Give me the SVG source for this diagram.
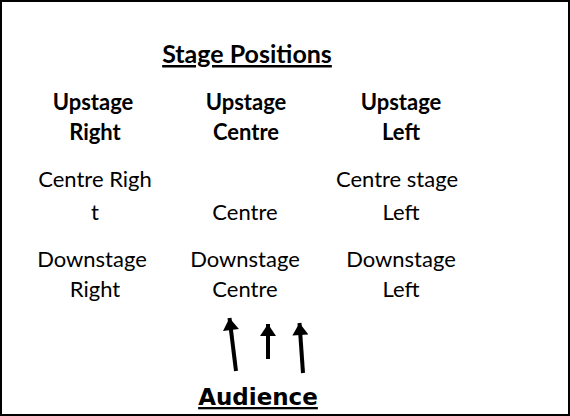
<svg xmlns="http://www.w3.org/2000/svg" width="570" height="416" viewBox="0 0 570 416">
<style>
.b{font-family:Lato,"Liberation Sans",sans-serif;font-weight:bold;font-size:22px;fill:#000;text-anchor:middle}
.r{font-family:Lato,"Liberation Sans",sans-serif;font-size:22px;fill:#000;text-anchor:middle}
.t{font-family:Lato,"Liberation Sans",sans-serif;font-weight:bold;font-size:25px;fill:#000;text-anchor:middle;text-decoration:underline}
.a{font-family:"DejaVu Sans",sans-serif;font-weight:bold;font-size:23px;fill:#000;text-anchor:middle;text-decoration:underline}
.c{stroke:#000;stroke-width:4;fill:none}
</style>
<defs>
<marker id="ah" markerUnits="userSpaceOnUse" markerWidth="16" markerHeight="16" viewBox="0 0 16 16" refX="14" refY="8" orient="auto">
<path d="M2 0 L14 8 L2 16 Z" fill="#000"/>
</marker>
</defs>
<rect x="1" y="1" width="568" height="414" fill="#fff" stroke="#000" stroke-width="2"/>
<g id="title"><text class="t" x="247" y="63">Stage Positions</text></g>
<g id="upstage-right"><text class="b" x="93" y="110">Upstage</text><text class="b" x="95" y="140">Right</text></g>
<g id="upstage-centre"><text class="b" x="246" y="110">Upstage</text><text class="b" x="246" y="140">Centre</text></g>
<g id="upstage-left"><text class="b" x="401" y="110">Upstage</text><text class="b" x="401" y="140">Left</text></g>
<g id="centre-right"><text class="r" x="95" y="187">Centre Righ</text><text class="r" x="95" y="220">t</text></g>
<g id="centre"><text class="r" x="245" y="220">Centre</text></g>
<g id="centre-left"><text class="r" x="397" y="187">Centre stage</text><text class="r" x="401" y="220">Left</text></g>
<g id="downstage-right"><text class="r" x="92" y="267">Downstage</text><text class="r" x="95" y="297">Right</text></g>
<g id="downstage-centre"><text class="r" x="245" y="267">Downstage</text><text class="r" x="245" y="297">Centre</text></g>
<g id="downstage-left"><text class="r" x="401" y="267">Downstage</text><text class="r" x="401" y="297">Left</text></g>
<g id="audience"><text class="a" x="258" y="405">Audience</text></g>
<g id="connectors">
<line class="c" x1="236" y1="371" x2="229.5" y2="318" marker-end="url(#ah)"/>
<line class="c" x1="268" y1="359" x2="268" y2="324" marker-end="url(#ah)"/>
<line class="c" x1="303" y1="373" x2="299.5" y2="323" marker-end="url(#ah)"/>
</g>
</svg>
